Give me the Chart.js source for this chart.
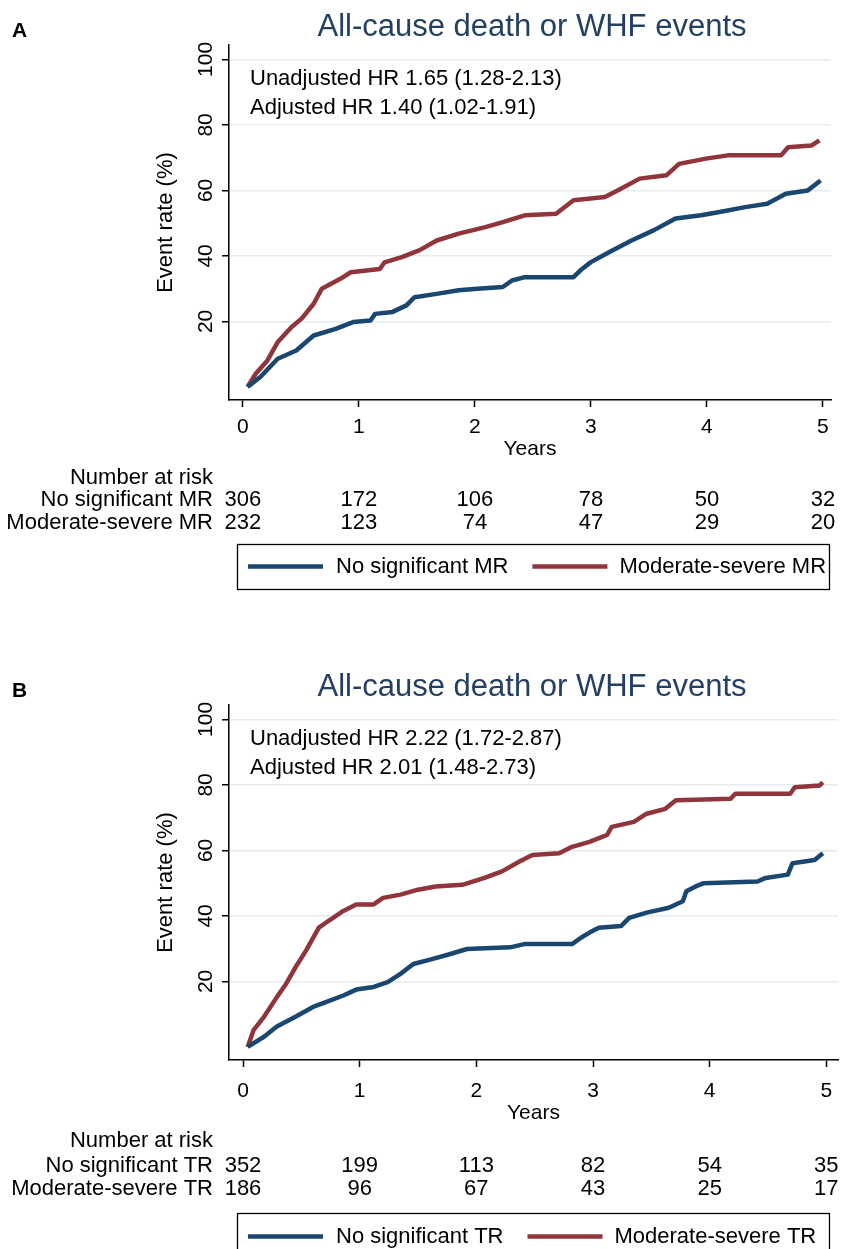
<!DOCTYPE html>
<html>
<head>
<meta charset="utf-8">
<script src="https://cdn.jsdelivr.net/npm/chart.js@4.4.0/dist/chart.umd.min.js"></script>
<style>
  html, body { margin: 0; padding: 0; background: #fff; overflow: hidden; }
  canvas { display: block; }
</style>
</head>
<body>
<canvas id="panelA" width="841" height="660"></canvas>
<canvas id="panelB" width="841" height="660"></canvas>
<script>
// Datos comunes
const years = [0, 1, 2, 3, 4, 5];
const yTicks = [20, 40, 60, 80, 100];

// Panel A: insuficiencia mitral
const gruposA = ["No significant MR", "Moderate-severe MR"];
const hrA = ["Unadjusted HR 1.65 (1.28-2.13)", "Adjusted HR 1.40 (1.02-1.91)"];
const tiempoA_no = [0.04, 0.15, 0.30, 0.46, 0.61, 0.80, 0.95, 1.10, 1.14, 1.29, 1.41, 1.48, 1.67, 1.86, 2.02, 2.24, 2.32, 2.43, 2.85, 2.91, 3.00, 3.16, 3.35, 3.54, 3.73, 3.95, 4.11, 4.33, 4.52, 4.68, 4.87, 4.98];
const eventosA_no = [0, 3, 8.6, 11.1, 15.7, 17.7, 19.8, 20.3, 22.3, 22.9, 24.9, 27.4, 28.4, 29.5, 30, 30.5, 32.5, 33.5, 33.5, 35.6, 38.1, 41.2, 44.7, 47.8, 51.4, 52.4, 53.4, 54.9, 55.9, 59, 60, 63];
const tiempoA_mod = [0.04, 0.11, 0.21, 0.30, 0.42, 0.51, 0.61, 0.68, 0.76, 0.84, 0.93, 1.18, 1.22, 1.37, 1.52, 1.67, 1.86, 2.09, 2.24, 2.43, 2.70, 2.85, 3.12, 3.23, 3.42, 3.65, 3.76, 3.99, 4.18, 4.64, 4.70, 4.90, 4.97];
const eventosA_mod = [0, 4, 8, 13.7, 18.3, 21, 25.4, 30, 31.5, 33, 35, 36, 38, 39.6, 41.7, 44.7, 46.8, 48.8, 50.3, 52.4, 52.9, 57, 58, 60, 63.6, 64.6, 68.1, 69.7, 70.7, 70.7, 73.2, 73.7, 75.3];
const riesgoA_no = [306, 172, 106, 78, 50, 32];
const riesgoA_mod = [232, 123, 74, 47, 29, 20];

// Panel B: insuficiencia tricuspídea
const gruposB = ["No significant TR", "Moderate-severe TR"];
const hrB = ["Unadjusted HR 2.22 (1.72-2.87)", "Adjusted HR 2.01 (1.48-2.73)"];
const tiempoB_no = [0.04, 0.18, 0.29, 0.45, 0.60, 0.71, 0.86, 0.97, 1.12, 1.24, 1.35, 1.46, 1.62, 1.77, 1.92, 2.29, 2.41, 2.82, 2.90, 2.97, 3.05, 3.24, 3.31, 3.46, 3.65, 3.77, 3.80, 3.88, 3.95, 4.41, 4.48, 4.67, 4.71, 4.90, 4.97];
const eventosB_no = [0, 3.1, 6.2, 9.2, 12.2, 13.7, 15.7, 17.5, 18.3, 19.8, 22.3, 25.3, 26.8, 28.3, 29.9, 30.4, 31.4, 31.4, 33.4, 34.9, 36.4, 36.9, 39.4, 41, 42.5, 44.5, 47.5, 49, 50, 50.5, 51.6, 52.6, 56.1, 57.1, 59.1];
const tiempoB_mod = [0.04, 0.09, 0.18, 0.29, 0.37, 0.45, 0.54, 0.65, 0.75, 0.86, 0.97, 1.12, 1.20, 1.35, 1.50, 1.65, 1.88, 2.07, 2.22, 2.37, 2.48, 2.71, 2.82, 2.97, 3.12, 3.16, 3.35, 3.46, 3.62, 3.71, 4.18, 4.22, 4.69, 4.73, 4.94, 4.97];
const eventosB_mod = [0, 5.1, 9.2, 15.2, 19.3, 24.3, 29.4, 36.4, 38.9, 41.5, 43.5, 43.5, 45.5, 46.5, 48, 49, 49.5, 51.6, 53.6, 56.6, 58.6, 59.1, 61.1, 62.6, 64.7, 67.2, 68.7, 71.2, 72.7, 75.3, 75.8, 77.3, 77.3, 79.3, 79.8, 80.8];
const riesgoB_no = [352, 199, 113, 82, 54, 35];
const riesgoB_mod = [186, 96, 67, 43, 25, 17];

const AZUL = "#1a476f";
const ROJO = "#90353b";
const TITULO = "#233f62";
const REJILLA = "#e4ecef";
const FUENTE = '"Liberation Sans", Arial, sans-serif';

function puntos(t, v) {
    return t.map((x, i) => ({ x: x, y: v[i] }));
}

function texto(ctx, s, x, y, size, align, color, bold) {
    ctx.save();
    ctx.font = (bold ? "bold " : "") + size + "px " + FUENTE;
    ctx.fillStyle = color || "#000";
    ctx.textAlign = align || "left";
    ctx.textBaseline = "middle";
    ctx.fillText(s, x, y);
    ctx.restore();
}

// Dibuja títulos, etiquetas, tabla de riesgo y leyenda
function pluginTextos(p) {
    return {
        id: "textos",
        afterDraw(chart) {
            const ctx = chart.ctx;
            const xs = chart.scales.x;
            const ys = chart.scales.y;
            const area = chart.chartArea;
            const L = p.lay;

            texto(ctx, p.letra, 12, 31, 21, "left", "#000", true);
            texto(ctx, "All-cause death or WHF events", 532, 27, 31, "center", TITULO);

            texto(ctx, p.hr[0], 250, 79, 22);
            texto(ctx, p.hr[1], 250, 108, 22);

            // etiquetas del eje y, giradas
            yTicks.forEach(v => {
                ctx.save();
                ctx.translate(206, ys.getPixelForValue(v));
                ctx.rotate(-Math.PI / 2);
                texto(ctx, String(v), 0, 0, 21, "center");
                ctx.restore();
            });
            ctx.save();
            ctx.translate(166, (area.top + area.bottom) / 2);
            ctx.rotate(-Math.PI / 2);
            texto(ctx, "Event rate (%)", 0, 0, 22, "center");
            ctx.restore();

            years.forEach(v => texto(ctx, String(v), xs.getPixelForValue(v), L.tick, 21, "center"));
            texto(ctx, "Years", (area.left + area.right) / 2, L.years, 21, "center");

            // tabla de número en riesgo
            texto(ctx, "Number at risk", 213, L.nar, 22, "right");
            texto(ctx, p.grupos[0], 213, L.fila1, 22, "right");
            texto(ctx, p.grupos[1], 213, L.fila2, 22, "right");
            years.forEach((v, i) => {
                texto(ctx, String(p.riesgo[0][i]), xs.getPixelForValue(v), L.fila1, 22, "center");
                texto(ctx, String(p.riesgo[1][i]), xs.getPixelForValue(v), L.fila2, 22, "center");
            });

            // leyenda
            ctx.save();
            ctx.strokeStyle = "#000";
            ctx.lineWidth = 1.3;
            ctx.strokeRect(237.5, L.cajaTop + 0.5, 592, L.cajaBot - L.cajaTop);
            const yl = (L.cajaTop + L.cajaBot) / 2;
            ctx.font = "22px " + FUENTE;
            const ancho1 = ctx.measureText(p.grupos[0]).width;
            ctx.lineWidth = 4.5;
            ctx.strokeStyle = AZUL;
            ctx.beginPath(); ctx.moveTo(248, yl); ctx.lineTo(323, yl); ctx.stroke();
            const x2 = 336 + ancho1 + 24;
            ctx.strokeStyle = ROJO;
            ctx.beginPath(); ctx.moveTo(x2, yl); ctx.lineTo(x2 + 75, yl); ctx.stroke();
            ctx.restore();
            texto(ctx, p.grupos[0], 336, yl, 22);
            texto(ctx, p.grupos[1], x2 + 87, yl, 22);
        }
    };
}

function crearPanel(id, p) {
    const serie = (label, data, color) => ({
        label: label,
        data: data,
        borderColor: color,
        borderWidth: 4.5,
        pointRadius: 0,
        fill: false,
        tension: 0,
        borderJoinStyle: "round"
    });

    new Chart(document.getElementById(id), {
        type: "line",
        data: {
            datasets: [
                serie(p.grupos[0], puntos(p.t[0], p.v[0]), AZUL),
                serie(p.grupos[1], puntos(p.t[1], p.v[1]), ROJO)
            ]
        },
        options: {
            responsive: false,
            animation: false,
            devicePixelRatio: 1,
            layout: { padding: { top: 45, left: 0, right: p.derecha, bottom: 200 } },
            plugins: {
                legend: { display: false },
                title: { display: false },
                tooltip: { enabled: false }
            },
            scales: {
                x: {
                    type: "linear",
                    min: -0.12,
                    max: p.xMax,
                    afterBuildTicks: s => { s.ticks = years.map(v => ({ value: v })); },
                    afterFit: s => { s.height = 60; },
                    grid: { drawOnChartArea: false, drawTicks: true, tickLength: 7, tickColor: "#000", tickWidth: 1.5 },
                    border: { display: true, color: "#000", width: 1.5 },
                    ticks: { display: false }
                },
                y: {
                    min: -4,
                    max: 104.4,
                    afterBuildTicks: s => { s.ticks = yTicks.map(v => ({ value: v })); },
                    afterFit: s => { s.width = 229; },
                    grid: { color: REJILLA, lineWidth: 1.5, drawTicks: true, tickLength: 7, tickColor: "#000", tickWidth: 1.5 },
                    border: { display: true, color: "#000", width: 1.5 },
                    ticks: { display: false }
                }
            }
        },
        plugins: [pluginTextos(p)]
    });
}

crearPanel("panelA", {
    letra: "A",
    grupos: gruposA,
    hr: hrA,
    t: [tiempoA_no, tiempoA_mod],
    v: [eventosA_no, eventosA_mod],
    riesgo: [riesgoA_no, riesgoA_mod],
    xMax: 5.07,
    derecha: 10,
    lay: { tick: 427, years: 449, nar: 478, fila1: 500, fila2: 523, cajaTop: 544, cajaBot: 589 }
});

crearPanel("panelB", {
    letra: "B",
    grupos: gruposB,
    hr: hrB,
    t: [tiempoB_no, tiempoB_mod],
    v: [eventosB_no, eventosB_mod],
    riesgo: [riesgoB_no, riesgoB_mod],
    xMax: 5.1,
    derecha: 3,
    lay: { tick: 431, years: 453, nar: 481, fila1: 506, fila2: 529, cajaTop: 553, cajaBot: 600 }
});
</script>
</body>
</html>
